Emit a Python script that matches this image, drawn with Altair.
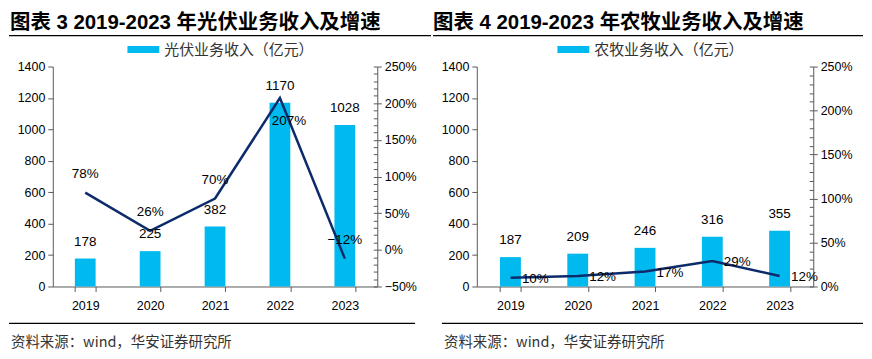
import altair as alt
import pandas as pd

years = ["2019", "2020", "2021", "2022", "2023"]
pv_revenue = [178, 225, 382, 1170, 1028]
pv_growth = [78, 26, 70, 207, -12]
agri_revenue = [187, 209, 246, 316, 355]
agri_growth = [10, 12, 17, 29, 12]

pv_title = "图表 3 2019-2023 年光伏业务收入及增速"
agri_title = "图表 4 2019-2023 年农牧业务收入及增速"
pv_series = "光伏业务收入（亿元）"
agri_series = "农牧业务收入（亿元）"
source_note = "资料来源：wind，华安证券研究所"

BAR = "#00B9EF"
LINE = "#0C2B6B"
AXIS = "#595959"
FONT = "Liberation Sans, Arial, Noto Sans CJK SC"
CJK = "Noto Sans CJK SC"
H = 221


def panel(revenue, growth, series, title, gdom, W, pinner, legend_x,
          title_x, top_rule, bottom_rule, label_groups):
    df = pd.DataFrame({"year": years, "revenue": revenue, "growth": growth,
                       "series": [series] * len(years)})
    base = alt.Chart(df).transform_calculate(
        glabel="format(datum.growth, 'd') + '%'")
    one = alt.Chart(pd.DataFrame({"k": [0]}))

    x = alt.X("year:N", title=None, sort=years, bandPosition=0.5,
              scale=alt.Scale(paddingInner=pinner, paddingOuter=pinner / 2),
              axis=alt.Axis(labelAngle=0, tickBand="extent", domainColor=AXIS,
                            tickColor=AXIS, tickSize=5, labelPadding=8,
                            labelFontSize=12.5, labelColor="#000",
                            labelFont=FONT, grid=False))
    xb = alt.X("year:N", title=None, sort=years,
               scale=alt.Scale(paddingInner=pinner, paddingOuter=pinner / 2),
               axis=alt.Axis(labelAngle=0, tickBand="extent", domainColor=AXIS,
                             tickColor=AXIS, tickSize=5, labelPadding=8,
                             labelFontSize=12.5, labelColor="#000",
                             labelFont=FONT, grid=False))
    ysc = alt.Scale(domain=[0, 1400], nice=False)
    gsc = alt.Scale(domain=gdom, nice=False)

    bars = base.mark_bar(color=BAR).encode(
        x=xb,
        y=alt.Y("revenue:Q", scale=ysc, title=None,
                axis=alt.Axis(orient="left", values=list(range(0, 1401, 200)),
                              format="d", grid=False, domainColor=AXIS,
                              tickColor=AXIS, tickSize=5, labelPadding=3,
                              labelFontSize=12.5, labelColor="#000",
                              labelFont=FONT)),
        color=alt.Color("series:N", scale=alt.Scale(range=[BAR]),
                        legend=alt.Legend(title=None, orient="none",
                                          legendX=legend_x, legendY=-33,
                                          padding=0,
                                          symbolType="M-1,-0.22H1V0.22H-1Z",
                                          symbolSize=1024, symbolStrokeWidth=0,
                                          labelFont=CJK, labelFontSize=15,
                                          labelColor="#333", labelOffset=5)),
    )
    bar_text = base.mark_text(dy=-17, fontSize=13.5, font=FONT,
                              color="#000", baseline="middle").encode(
        x=x, y=alt.Y("revenue:Q", scale=ysc, axis=None), text="revenue:Q")

    line = base.mark_line(color=LINE, strokeWidth=2.5).encode(
        x=x,
        y=alt.Y("growth:Q", scale=gsc, title=None,
                axis=alt.Axis(orient="right",
                              values=list(range(gdom[0], gdom[1] + 1, 50)),
                              format="d", labelExpr="datum.label + '%'",
                              grid=False, domainColor=AXIS, tickColor=AXIS,
                              tickSize=4, labelPadding=3, labelFontSize=12.5,
                              labelColor="#000", labelFont=FONT)))
    minor = base.mark_line(strokeOpacity=0).encode(
        x=x,
        y=alt.Y("growth:Q", scale=gsc, title=None,
                axis=alt.Axis(orient="right",
                              values=list(range(gdom[0], gdom[1] + 1, 10)),
                              labels=False, domain=False, grid=False,
                              tickColor=AXIS, tickSize=4, offset=-4)))
    texts = []
    for yrs, dx, dy in label_groups:
        texts.append(base.transform_filter(
            alt.FieldOneOfPredicate(field="year", oneOf=yrs)).mark_text(
            dx=dx, dy=dy, fontSize=13.5, font=FONT, color="#000",
            baseline="middle").encode(
            x=x, y=alt.Y("growth:Q", scale=gsc, axis=None), text="glabel:N"))

    title_txt = one.mark_text(align="left", baseline="alphabetic", fontSize=20.5,
                              fontWeight="bold", font=FONT, color="#000").encode(
        x=alt.value(title_x), y=alt.value(-38), text=alt.value(title))
    rule_top = one.mark_rule(color="#000", strokeWidth=1.3).encode(
        x=alt.value(top_rule[0]), x2=alt.value(top_rule[1]), y=alt.value(-31))
    rule_bot = one.mark_rule(color="#000", strokeWidth=1.3).encode(
        x=alt.value(bottom_rule[0]), x2=alt.value(bottom_rule[1]), y=alt.value(258))
    src = one.mark_text(align="left", baseline="middle", fontSize=14.5,
                        font=CJK, color="#333").encode(
        x=alt.value(bottom_rule[0] + 2), y=alt.value(278), text=alt.value(source_note))

    return alt.layer(bars, line, minor, bar_text, *texts, title_txt, rule_top,
                     rule_bot, src).resolve_scale(y="independent").properties(
        width=W, height=H)


left = panel(pv_revenue, pv_growth, pv_series, pv_title, [-50, 250], 326, 0.68,
             75, -43, (-44, 380), (-44, 364),
             [(["2019", "2020", "2021", "2023"], 0, -19), (["2022"], 9, 23)])
right = panel(agri_revenue, agri_growth, agri_series, agri_title, [0, 250], 338,
              0.69, 81, -44, (-44, 388), (-35, 388),
              [(years, 25, 1)])

chart = alt.hconcat(left, right, spacing=0).resolve_scale(
    color="independent").resolve_legend(color="independent").configure_view(
    stroke=None).properties(
    padding={"left": 0, "top": 4, "right": 0, "bottom": 0})

chart.save("out.html", embed_options={"renderer": "svg", "actions": False})
